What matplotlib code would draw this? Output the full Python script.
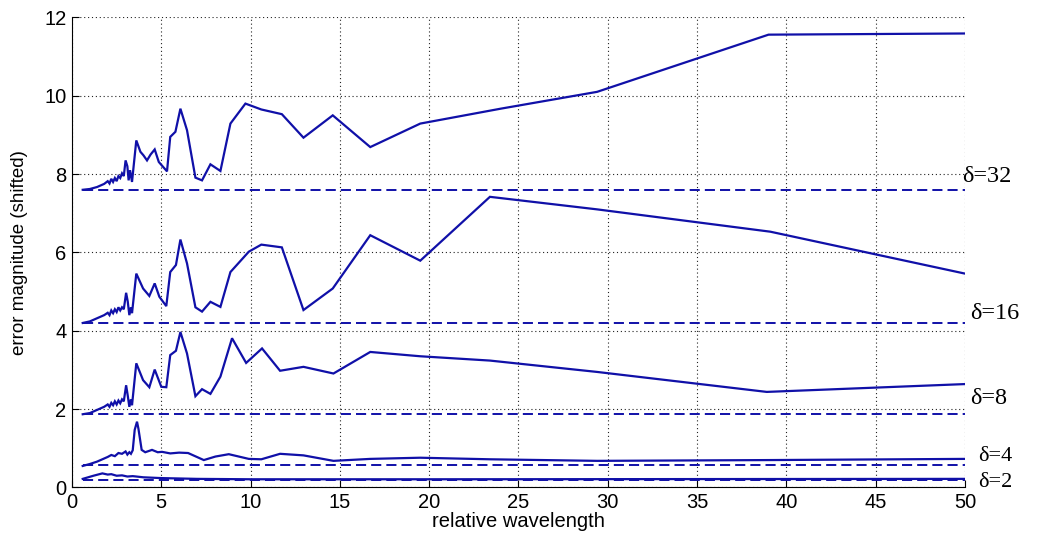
import matplotlib
matplotlib.use("Agg")
import matplotlib.pyplot as plt

# ---------------- data ----------------
x_d32 = [0.6, 1.0, 1.4, 1.8, 2.0, 2.1, 2.2, 2.3, 2.4, 2.5, 2.6, 2.7, 2.8, 2.9,
         3.0, 3.1, 3.17, 3.25, 3.36, 3.6, 3.83, 4.0, 4.2, 4.4, 4.63, 4.86, 5.32,
         5.5, 5.79, 6.07, 6.44, 6.91, 7.28, 7.75, 8.31, 8.87, 9.71, 10.6, 11.75,
         12.96, 14.6, 16.7, 19.5, 24.0, 29.4, 39.0, 50.0]
y_d32 = [7.60, 7.62, 7.67, 7.75, 7.82, 7.76, 7.88, 7.80, 7.90, 7.82, 7.95, 7.90,
         8.02, 7.95, 8.35, 8.20, 7.84, 8.10, 7.80, 8.86, 8.57, 8.48, 8.35, 8.50,
         8.63, 8.31, 8.07, 8.95, 9.08, 9.67, 9.12, 7.91, 7.84, 8.25, 8.08, 9.29,
         9.80, 9.65, 9.53, 8.93, 9.50, 8.69, 9.29, 9.67, 10.10, 11.56, 11.59]

x_d16 = [0.6, 1.0, 1.4, 1.8, 2.0, 2.1, 2.2, 2.3, 2.4, 2.5, 2.6, 2.7, 2.8, 2.9,
         3.03, 3.12, 3.21, 3.3, 3.36, 3.6, 3.98, 4.33, 4.63, 4.89, 5.28, 5.5,
         5.82, 6.07, 6.44, 6.91, 7.28, 7.75, 8.31, 8.87, 9.9, 10.6, 11.75, 12.96,
         14.6, 16.7, 19.5, 23.4, 29.4, 39.1, 50.0]
y_d16 = [4.20, 4.24, 4.32, 4.40, 4.46, 4.40, 4.52, 4.45, 4.55, 4.48, 4.60, 4.52,
         4.60, 4.55, 4.97, 4.75, 4.40, 4.60, 4.45, 5.46, 5.08, 4.89, 5.21, 4.87,
         4.63, 5.50, 5.68, 6.33, 5.72, 4.60, 4.49, 4.74, 4.61, 5.50, 6.02, 6.20,
         6.13, 4.53, 5.08, 6.44, 5.79, 7.42, 7.10, 6.53, 5.46]

x_d8 = [0.6, 1.0, 1.4, 1.8, 2.0, 2.1, 2.2, 2.3, 2.4, 2.5, 2.6, 2.7, 2.8, 2.9,
        3.03, 3.12, 3.21, 3.3, 3.36, 3.6, 3.98, 4.33, 4.63, 5.0, 5.28, 5.5,
        5.82, 6.07, 6.44, 6.91, 7.28, 7.75, 8.31, 8.96, 9.75, 10.64, 11.65,
        12.96, 14.64, 16.7, 19.5, 23.4, 29.4, 38.9, 50.0]
y_d8 = [1.87, 1.90, 1.98, 2.06, 2.12, 2.06, 2.16, 2.10, 2.20, 2.12, 2.22, 2.15,
        2.25, 2.20, 2.61, 2.35, 2.06, 2.25, 2.10, 3.17, 2.74, 2.56, 3.01, 2.57,
        2.56, 3.38, 3.49, 3.97, 3.42, 2.33, 2.51, 2.39, 2.83, 3.81, 3.18, 3.55,
        2.98, 3.08, 2.91, 3.46, 3.35, 3.24, 2.95, 2.44, 2.64]

x_d4 = [0.6, 1.0, 1.4, 1.8, 2.0, 2.2, 2.4, 2.6, 2.8, 3.0, 3.1, 3.21, 3.3, 3.4,
        3.51, 3.64, 3.72, 3.9, 4.1, 4.48, 4.8, 5.04, 5.5, 6.0, 6.5, 7.38, 8.03,
        8.78, 9.9, 10.6, 11.65, 12.96, 14.64, 16.7, 19.5, 23.4, 29.4, 39.0, 50.0]
y_d4 = [0.55, 0.60, 0.66, 0.74, 0.78, 0.83, 0.80, 0.88, 0.86, 0.92, 0.84, 0.90,
        0.86, 0.95, 1.47, 1.68, 1.50, 0.96, 0.90, 0.96, 0.90, 0.91, 0.87, 0.89,
        0.88, 0.70, 0.79, 0.85, 0.73, 0.72, 0.86, 0.82, 0.68, 0.73, 0.76, 0.72,
        0.68, 0.70, 0.73]

x_d2 = [0.6, 1.2, 1.7, 2.0, 2.2, 2.5, 2.8, 3.1, 3.4, 4.0, 5.0, 7.0, 10.0, 20.0, 50.0]
y_d2 = [0.22, 0.30, 0.36, 0.33, 0.34, 0.30, 0.31, 0.28, 0.29, 0.26, 0.24, 0.22,
        0.21, 0.21, 0.22]

baselines = [7.60, 4.20, 1.88, 0.57, 0.20]
baseline_x = [0.6, 50.0]
labels = ["δ=32", "δ=16", "δ=8", "δ=4", "δ=2"]

x_ticks = [0, 5, 10, 15, 20, 25, 30, 35, 40, 45, 50]
y_ticks = [0, 2, 4, 6, 8, 10, 12]

# ---------------- figure ----------------
plt.rcParams['font.family'] = ['Liberation Sans', 'DejaVu Sans']
fig = plt.figure(figsize=(10.42, 5.36), dpi=100)
ax = fig.add_axes([0.0691, 0.0905, 0.857, 0.877])

col = '#1010a8'
lw = 1.6
for xs, ys in [(x_d32, y_d32), (x_d16, y_d16), (x_d8, y_d8), (x_d4, y_d4), (x_d2, y_d2)]:
    ax.plot(xs, ys, color=col, lw=lw, solid_joinstyle='miter', zorder=3)

for b in baselines:
    ax.plot(baseline_x, [b, b], color=col, lw=1.4, linestyle=(0, (5.2, 2.6)), zorder=2)

# labels at right end
lab_dx = [49.85, 50.3, 50.3, 50.75, 50.75]
lab_dy = [0.35, 0.25, 0.40, 0.21, -0.08]
lab_fs = [17.5, 17.5, 17.5, 16, 16]
for lab, b, dx, dy, fs in zip(labels, baselines, lab_dx, lab_dy, lab_fs):
    ax.text(dx, b + dy, lab, fontsize=fs, family=['Liberation Serif', 'DejaVu Serif'],
            ha='left', va='center', clip_on=False, zorder=5)

ax.set_xlim(0, 50)
ax.set_ylim(0, 12)
ax.set_xticks(x_ticks)
ax.set_yticks(y_ticks)
ax.grid(True, color='#222222', linestyle=(0, (1, 2.5)), lw=0.8)
ax.set_axisbelow(True)
ax.spines['top'].set_visible(False)
ax.spines['right'].set_visible(False)
ax.tick_params(direction='in', length=5, labelsize=14.5, pad=4)
ax.set_xlabel('relative wavelength', fontsize=14.5, labelpad=0)
ax.set_ylabel('error magnitude (shifted)', fontsize=13.5, labelpad=12)

fig.savefig('out.png', dpi=100)
